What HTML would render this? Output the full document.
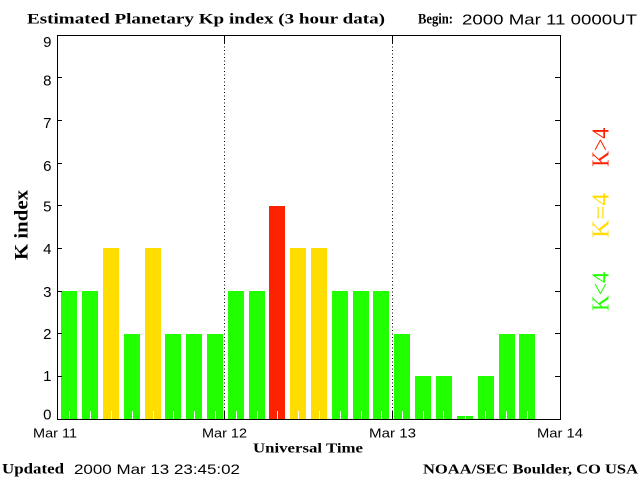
<!DOCTYPE html>
<html>
<head>
<meta charset="utf-8">
<style>
html,body{margin:0;padding:0;background:#fff;}
svg{display:block;}
.sans{font-family:"Liberation Sans",sans-serif;}
.serif{font-family:"Liberation Serif",serif;}
</style>
</head>
<body>
<svg width="640" height="480" viewBox="0 0 640 480" xmlns="http://www.w3.org/2000/svg">
<rect x="0" y="0" width="640" height="480" fill="#fff"/>

<!-- Title -->
<text class="serif" x="27" y="23.5" font-size="15" font-weight="bold" textLength="358" lengthAdjust="spacingAndGlyphs">Estimated Planetary Kp index (3 hour data)</text>
<text class="serif" x="418" y="23.5" font-size="15" font-weight="bold" textLength="35" lengthAdjust="spacingAndGlyphs">Begin:</text>
<text class="sans" x="462" y="24.5" font-size="15" textLength="175" lengthAdjust="spacingAndGlyphs">2000 Mar 11 0000UT</text>

<!-- Bars -->
<g shape-rendering="crispEdges">
<rect x="61" y="291" width="16" height="128" fill="#22ff00"/>
<rect x="82" y="291" width="16" height="128" fill="#22ff00"/>
<rect x="103" y="248" width="16" height="171" fill="#ffdd00"/>
<rect x="124" y="334" width="16" height="85" fill="#22ff00"/>
<rect x="145" y="248" width="16" height="171" fill="#ffdd00"/>
<rect x="165" y="334" width="16" height="85" fill="#22ff00"/>
<rect x="186" y="334" width="16" height="85" fill="#22ff00"/>
<rect x="207" y="334" width="16" height="85" fill="#22ff00"/>
<rect x="228" y="291" width="16" height="128" fill="#22ff00"/>
<rect x="249" y="291" width="16" height="128" fill="#22ff00"/>
<rect x="269" y="206" width="16" height="213" fill="#ff2200"/>
<rect x="290" y="248" width="16" height="171" fill="#ffdd00"/>
<rect x="311" y="248" width="16" height="171" fill="#ffdd00"/>
<rect x="332" y="291" width="16" height="128" fill="#22ff00"/>
<rect x="353" y="291" width="16" height="128" fill="#22ff00"/>
<rect x="373" y="291" width="16" height="128" fill="#22ff00"/>
<rect x="394" y="334" width="16" height="85" fill="#22ff00"/>
<rect x="415" y="376" width="16" height="43" fill="#22ff00"/>
<rect x="436" y="376" width="16" height="43" fill="#22ff00"/>
<rect x="457" y="416" width="16" height="3" fill="#22ff00"/>
<rect x="478" y="376" width="16" height="43" fill="#22ff00"/>
<rect x="499" y="334" width="16" height="85" fill="#22ff00"/>
<rect x="519" y="334" width="16" height="85" fill="#22ff00"/>
</g>

<!-- white minor ticks on bars -->
<g stroke="#fff" stroke-width="1" shape-rendering="crispEdges">
<line x1="69.5" y1="411" x2="69.5" y2="419"/>
<line x1="90.5" y1="411" x2="90.5" y2="419"/>
<line x1="111.5" y1="411" x2="111.5" y2="419"/>
<line x1="132.5" y1="411" x2="132.5" y2="419"/>
<line x1="153.5" y1="411" x2="153.5" y2="419"/>
<line x1="173.5" y1="411" x2="173.5" y2="419"/>
<line x1="194.5" y1="411" x2="194.5" y2="419"/>
<line x1="215.5" y1="411" x2="215.5" y2="419"/>
<line x1="236.5" y1="411" x2="236.5" y2="419"/>
<line x1="257.5" y1="411" x2="257.5" y2="419"/>
<line x1="277.5" y1="411" x2="277.5" y2="419"/>
<line x1="298.5" y1="411" x2="298.5" y2="419"/>
<line x1="319.5" y1="411" x2="319.5" y2="419"/>
<line x1="340.5" y1="411" x2="340.5" y2="419"/>
<line x1="361.5" y1="411" x2="361.5" y2="419"/>
<line x1="381.5" y1="411" x2="381.5" y2="419"/>
<line x1="402.5" y1="411" x2="402.5" y2="419"/>
<line x1="423.5" y1="411" x2="423.5" y2="419"/>
<line x1="443.5" y1="411" x2="443.5" y2="419"/>
<line x1="465.5" y1="411" x2="465.5" y2="419"/>
<line x1="485.5" y1="411" x2="485.5" y2="419"/>
<line x1="506.5" y1="411" x2="506.5" y2="419"/>
<line x1="527.5" y1="411" x2="527.5" y2="419"/>
</g>

<!-- Dotted day separators -->
<g stroke="#000" stroke-width="1" shape-rendering="crispEdges">
<line x1="224.5" y1="43" x2="224.5" y2="411" stroke-dasharray="1 2.5"/>
<line x1="392.5" y1="43" x2="392.5" y2="411" stroke-dasharray="1 2.5"/>
<line x1="224.5" y1="35" x2="224.5" y2="43"/>
<line x1="224.5" y1="411" x2="224.5" y2="419"/>
<line x1="392.5" y1="35" x2="392.5" y2="43"/>
<line x1="392.5" y1="411" x2="392.5" y2="419"/>
</g>

<!-- Frame -->
<rect x="57.5" y="35.5" width="503" height="384" fill="none" stroke="#000" stroke-width="1" shape-rendering="crispEdges"/>

<!-- Y ticks -->
<g stroke="#000" stroke-width="1" shape-rendering="crispEdges">
<line x1="57" y1="376.5" x2="62" y2="376.5"/><line x1="555" y1="376.5" x2="560" y2="376.5"/>
<line x1="57" y1="333.5" x2="62" y2="333.5"/><line x1="555" y1="333.5" x2="560" y2="333.5"/>
<line x1="57" y1="291.5" x2="62" y2="291.5"/><line x1="555" y1="291.5" x2="560" y2="291.5"/>
<line x1="57" y1="248.5" x2="62" y2="248.5"/><line x1="555" y1="248.5" x2="560" y2="248.5"/>
<line x1="57" y1="205.5" x2="62" y2="205.5"/><line x1="555" y1="205.5" x2="560" y2="205.5"/>
<line x1="57" y1="163.5" x2="62" y2="163.5"/><line x1="555" y1="163.5" x2="560" y2="163.5"/>
<line x1="57" y1="120.5" x2="62" y2="120.5"/><line x1="555" y1="120.5" x2="560" y2="120.5"/>
<line x1="57" y1="77.5" x2="62" y2="77.5"/><line x1="555" y1="77.5" x2="560" y2="77.5"/>
</g>

<!-- Y labels -->
<g class="sans" font-size="15" text-anchor="end" fill="#000">
<text x="51.5" y="47">9</text>
<text x="51.5" y="85.5">8</text>
<text x="51.5" y="128">7</text>
<text x="51.5" y="171">6</text>
<text x="51.5" y="211.5">5</text>
<text x="51.5" y="254">4</text>
<text x="51.5" y="297">3</text>
<text x="51.5" y="339">2</text>
<text x="51.5" y="381">1</text>
<text x="51.5" y="419.3">0</text>
</g>

<!-- Y axis title -->
<text class="serif" transform="translate(27.5,260) rotate(-90)" x="0" y="0" font-size="19" font-weight="bold" textLength="70" lengthAdjust="spacingAndGlyphs">K index</text>

<!-- X labels -->
<g class="sans" font-size="13" text-anchor="middle">
<text x="55" y="437.5" textLength="44" lengthAdjust="spacingAndGlyphs">Mar 11</text>
<text x="224.5" y="437.5" textLength="45" lengthAdjust="spacingAndGlyphs">Mar 12</text>
<text x="392.5" y="437.5" textLength="47" lengthAdjust="spacingAndGlyphs">Mar 13</text>
<text x="560" y="437.5" textLength="46" lengthAdjust="spacingAndGlyphs">Mar 14</text>
</g>
<text class="serif" x="253" y="452.7" font-size="14" font-weight="bold" textLength="110" lengthAdjust="spacingAndGlyphs">Universal Time</text>

<!-- Footer -->
<text class="serif" x="2" y="473.5" font-size="15" font-weight="bold" textLength="62" lengthAdjust="spacingAndGlyphs">Updated</text>
<text class="sans" x="74" y="474" font-size="14" textLength="166" lengthAdjust="spacingAndGlyphs">2000 Mar 13 23:45:02</text>
<text class="serif" x="423" y="473.5" font-size="14" font-weight="bold" textLength="215" lengthAdjust="spacingAndGlyphs">NOAA/SEC Boulder, CO USA</text>

<!-- Legend -->
<text class="serif" transform="translate(608.3,166.7) rotate(-90)" font-size="24" fill="#ff2200" textLength="39" lengthAdjust="spacingAndGlyphs">K&gt;4</text>
<text class="serif" transform="translate(608.3,238) rotate(-90)" font-size="24" fill="#ffdd00" textLength="45" lengthAdjust="spacingAndGlyphs">K=4</text>
<text class="serif" transform="translate(608.3,311) rotate(-90)" font-size="24" fill="#22ff00" textLength="39" lengthAdjust="spacingAndGlyphs">K&lt;4</text>
</svg>
</body>
</html>
